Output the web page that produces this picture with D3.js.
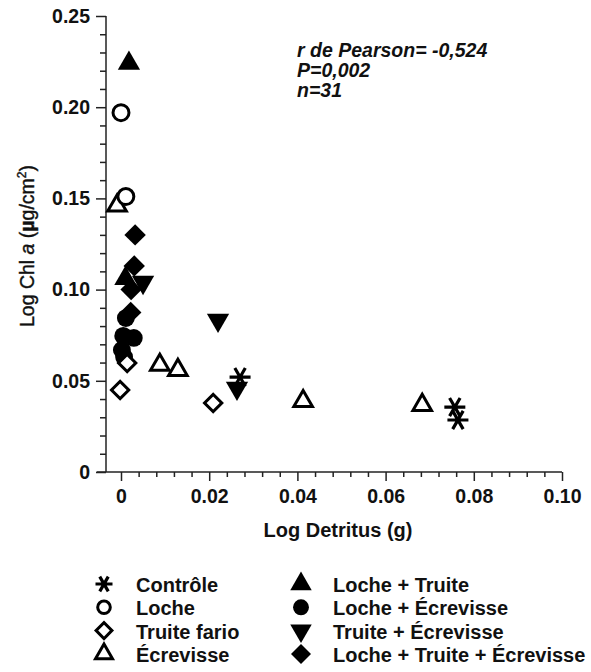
<!DOCTYPE html>
<html>
<head>
<meta charset="utf-8">
<script src="https://cdn.jsdelivr.net/npm/d3@7"></script>
<style>
  body { margin: 0; background: #fff; }
  svg { display: block; font-family: "Liberation Sans", Arial, sans-serif; }
</style>
</head>
<body>
<div id="chart"></div>
<script>
// data: [log detritus (g), log chl a (ug/cm2)]
const controle = [[0.027, 0.052], [0.0757, 0.0356], [0.0764, 0.0285]];
const loche = [[0.0, 0.197], [0.0011, 0.151]];
const truiteFario = [[0.0014, 0.0598], [-0.0002, 0.045], [0.0209, 0.0378]];
const ecrevisse = [[-0.0009, 0.146], [0.0088, 0.0587], [0.0129, 0.0559], [0.0413, 0.0388], [0.0683, 0.0367]];
const locheTruite = [[0.0018, 0.224], [0.001, 0.106]];
const locheEcrevisse = [[0.0011, 0.0844], [0.0005, 0.0746], [0.0029, 0.0735], [0.0002, 0.0669], [0.0007, 0.063]];
const truiteEcrevisse = [[0.005, 0.104], [0.022, 0.0833], [0.0263, 0.046]];
const locheTruiteEcrevisse = [[0.0032, 0.130], [0.003, 0.113], [0.0023, 0.100], [0.0022, 0.0875]];

const xTicks = [0, 0.02, 0.04, 0.06, 0.08, 0.10];
const xTickLabels = ["0", "0.02", "0.04", "0.06", "0.08", "0.10"];
const xMinor = [0.004, 0.008, 0.012, 0.016, 0.024, 0.028, 0.032, 0.036, 0.044, 0.048, 0.052, 0.056,
                0.064, 0.068, 0.072, 0.076, 0.084, 0.088, 0.092, 0.096];
const yTicks = [0, 0.05, 0.10, 0.15, 0.20, 0.25];
const yTickLabels = ["0", "0.05", "0.10", "0.15", "0.20", "0.25"];
const yMinor = [0.01, 0.02, 0.03, 0.04, 0.06, 0.07, 0.08, 0.09, 0.11, 0.12, 0.13, 0.14,
                0.16, 0.17, 0.18, 0.19, 0.21, 0.22, 0.23, 0.24];

const statLines = ["r de Pearson= -0,524", "P=0,002", "n=31"];

const series = [
  { name: "Contrôle", shape: "asterisk", open: true, data: controle, size: 1.05 },
  { name: "Loche", shape: "circle", open: true, data: loche, size: 200 },
  { name: "Truite fario", shape: "diamond", open: true, data: truiteFario, size: 150 },
  { name: "Écrevisse", shape: "up", open: true, data: ecrevisse, size: 150 },
  { name: "Loche + Truite", shape: "up", open: false, data: locheTruite, size: 215 },
  { name: "Loche + Écrevisse", shape: "circle", open: false, data: locheEcrevisse, size: 250 },
  { name: "Truite + Écrevisse", shape: "down", open: false, data: truiteEcrevisse, size: 215 },
  { name: "Loche + Truite + Écrevisse", shape: "diamond", open: false, data: locheTruiteEcrevisse, size: 230 }
];

const width = 591, height = 672;
const ink = "#111";

const svg = d3.select("#chart").append("svg")
    .attr("width", width)
    .attr("height", height);

const x = d3.scaleLinear().domain([0, 0.1]).range([121, 562]);
const y = d3.scaleLinear().domain([0, 0.25]).range([472, 16]);

// x axis
const gx = svg.append("g").attr("transform", `translate(0,${y(0)})`);
gx.call(d3.axisBottom(x).tickValues(xMinor).tickSize(5).tickFormat(""))
    .call(g => g.select(".domain").remove());
gx.append("g").call(d3.axisBottom(x).tickValues(xTicks).tickSize(9).tickPadding(8)
        .tickFormat((d, i) => xTickLabels[i]))
    .call(g => g.select(".domain").remove());
gx.append("line")
    .attr("x1", x(-0.0055)).attr("x2", x(0.1));

// y axis
const gy = svg.append("g").attr("transform", `translate(${106},0)`);
gy.call(d3.axisLeft(y).tickValues(yMinor).tickSize(6).tickFormat(""))
    .call(g => g.select(".domain").remove());
gy.append("g").call(d3.axisLeft(y).tickValues(yTicks).tickSize(10).tickPadding(6)
        .tickFormat((d, i) => yTickLabels[i]))
    .call(g => g.select(".domain").remove());
gy.append("line")
    .attr("y1", y(0.25)).attr("y2", y(0));

svg.selectAll(".tick line, g > line")
    .attr("stroke", "#222")
    .attr("stroke-width", 1.5);
svg.selectAll(".tick text")
    .attr("font-size", 19.5)
    .attr("font-weight", "bold")
    .attr("fill", ink)
    .attr("font-family", "Liberation Sans, Arial, sans-serif");

// axis titles
svg.append("text")
    .attr("x", 338).attr("y", 537)
    .attr("text-anchor", "middle")
    .attr("font-size", 20).attr("font-weight", "bold").attr("fill", ink)
    .text("Log Detritus (g)");

const yt = svg.append("text")
    .attr("transform", "translate(34,246) rotate(-90)")
    .attr("text-anchor", "middle")
    .attr("font-size", 19.5).attr("fill", ink)
    .attr("stroke", ink).attr("stroke-width", 0.4);
yt.append("tspan").text("Log Chl ");
yt.append("tspan").attr("font-style", "italic").text("a");
yt.append("tspan").text(" (");
yt.append("tspan").attr("font-weight", "bold").text("µ");
yt.append("tspan").text("g/cm");
yt.append("tspan").attr("font-size", 12).attr("dy", -8).text("2");
yt.append("tspan").attr("dy", 8).text(")");

// stats annotation
svg.append("g").selectAll("text")
  .data(statLines)
  .join("text")
    .attr("x", 297)
    .attr("y", (d, i) => 57 + i * 20)
    .attr("font-size", 19.5)
    .attr("font-weight", "bold")
    .attr("font-style", "italic")
    .attr("fill", ink)
    .text(d => d);

// markers
function markerPath(shape, size) {
  if (shape === "asterisk") {
    const r = 10 * size, dx = r / 2, dy = r * 0.866;
    return `M${-r},0H${r}M${-dx},${-dy}L${dx},${dy}M${dx},${-dy}L${-dx},${dy}`;
  }
  const type = shape === "circle" ? d3.symbolCircle
             : shape === "diamond" ? d3.symbolSquare
             : d3.symbolTriangle;
  return d3.symbol(type, size)();
}
function markerRotate(shape) {
  return shape === "diamond" ? 45 : shape === "down" ? 180 : 0;
}
function styleMarker(sel, s) {
  if (s.shape === "asterisk") {
    sel.attr("fill", "none").attr("stroke", "#000").attr("stroke-width", 3.2);
  } else if (s.open) {
    sel.attr("fill", "#fff").attr("stroke", "#000").attr("stroke-width", 3);
  } else {
    sel.attr("fill", "#000").attr("stroke", "none");
  }
}

const drawOrder = [7, 4, 6, 5, 3, 2, 1, 0];
const gm = svg.append("g");
drawOrder.forEach(k => {
  const s = series[k];
  gm.append("g").selectAll("path")
    .data(s.data)
    .join("path")
      .attr("d", markerPath(s.shape, s.size))
      .attr("transform", d => `translate(${x(d[0])},${y(d[1])}) rotate(${markerRotate(s.shape)})`)
      .call(styleMarker, s);
});

// legend
const legendCols = [{ sx: 104, tx: 136 }, { sx: 301, tx: 333 }];
const lg = svg.append("g");
series.forEach((s, i) => {
  const col = legendCols[Math.floor(i / 4)];
  const row = i % 4;
  const base = 592 + row * 23.3;
  const legendSize = s.shape === "asterisk" ? 0.85 : s.open ? 125 : 200;
  lg.append("path")
    .attr("d", markerPath(s.shape, legendSize))
    .attr("transform", `translate(${col.sx},${base - 8}) rotate(${markerRotate(s.shape)})`)
    .call(styleMarker, s);
  lg.append("text")
    .attr("x", col.tx).attr("y", base)
    .attr("font-size", 20).attr("font-weight", "bold").attr("fill", ink)
    .text(s.name);
});
</script>
</body>
</html>
